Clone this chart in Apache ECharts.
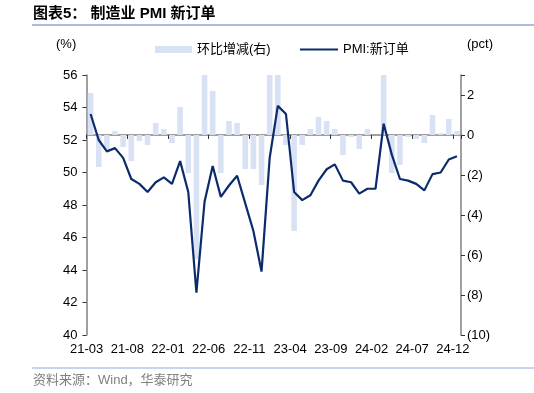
<!DOCTYPE html>
<html>
<head>
<meta charset="utf-8">
<script src="https://cdn.jsdelivr.net/npm/echarts@6/dist/echarts.min.js"></script>
<style>
html,body{margin:0;padding:0;background:#fff;}
#c{width:534px;height:393px;}
</style>
</head>
<body>
<div id="c"></div>
<script>
const categories = ['21-03','21-04','21-05','21-06','21-07','21-08','21-09','21-10','21-11','21-12',
  '22-01','22-02','22-03','22-04','22-05','22-06','22-07','22-08','22-09','22-10','22-11','22-12',
  '23-01','23-02','23-03','23-04','23-05','23-06','23-07','23-08','23-09','23-10','23-11','23-12',
  '24-01','24-02','24-03','24-04','24-05','24-06','24-07','24-08','24-09','24-10','24-11','24-12'];
const pmiNewOrders = [53.6,52.0,51.3,51.5,50.9,49.6,49.3,48.8,49.4,49.7,
  49.3,50.7,48.8,42.6,48.2,50.4,48.5,49.2,49.8,48.1,46.4,43.9,
  50.9,54.1,53.6,48.8,48.3,48.6,49.5,50.2,50.5,49.5,49.4,48.7,
  49.0,49.0,53.0,51.1,49.6,49.5,49.3,48.9,49.9,50.0,50.8,51.0];
const momChange = [2.1,-1.6,-0.7,0.2,-0.6,-1.3,-0.3,-0.5,0.6,0.3,
  -0.4,1.4,-1.9,-6.2,5.6,2.2,-1.9,0.7,0.6,-1.7,-1.7,-2.5,
  7.0,3.2,-0.5,-4.8,-0.5,0.3,0.9,0.7,0.3,-1.0,-0.1,-0.7,
  0.3,0.0,4.0,-1.9,-1.5,-0.1,-0.2,-0.4,1.0,0.1,0.8,0.2];
const leftTicks = {min:40, max:56, interval:2};
const rightTicks = {min:-10, max:3, interval:2};

const FONT = '"Liberation Sans", Arial, "Noto Sans CJK SC", sans-serif';
const chart = echarts.init(document.getElementById('c'), null, {renderer:'canvas'});
const axisGrey = '#808080';
const lineColor = '#0B2B6B';
chart.setOption({
  animation:false,
  backgroundColor:'#fff',
  textStyle:{fontFamily:FONT},
  grid:{left:86.5, right:73, top:75, bottom:58, containLabel:false},
  legend:[
    {data:['环比增减(右)'], left:150, top:38, itemWidth:37, itemHeight:7, icon:'rect',
     textStyle:{fontSize:13, color:'#000', fontFamily:FONT}},
    {data:['PMI:新订单'], left:295, top:38, itemWidth:38, itemHeight:2, icon:'rect',
     itemStyle:{color:lineColor},
     textStyle:{fontSize:13, color:'#000', fontFamily:FONT}}
  ],
  xAxis:{
    type:'category', data:categories, boundaryGap:true,
    axisLine:{show:true, lineStyle:{color:axisGrey, width:1.5}},
    axisTick:{show:true, interval:4, length:4, inside:false, alignWithLabel:false, lineStyle:{color:'#333'}},
    axisLabel:{interval:4, fontSize:13, color:'#000', margin:8, padding:[0,8,0,0], fontFamily:FONT},
    splitLine:{show:false}
  },
  yAxis:[
    {type:'value', position:'left', min:leftTicks.min, max:leftTicks.max, interval:leftTicks.interval,
     axisLine:{show:true, lineStyle:{color:axisGrey, width:1.5}},
     axisTick:{show:true, length:4, lineStyle:{color:'#333'}},
     axisLabel:{fontSize:13, color:'#000', margin:9, fontFamily:FONT},
     splitLine:{show:false}},
    {type:'value', position:'right', min:rightTicks.min, max:rightTicks.max, interval:rightTicks.interval,
     axisLine:{show:true, lineStyle:{color:axisGrey, width:1.5}},
     axisTick:{show:true, length:4, lineStyle:{color:'#333'}},
     axisLabel:{fontSize:13, color:'#000', margin:6, fontFamily:FONT,
       formatter:function(v){ if(v===3) return ''; return v<0 ? '('+(-v)+')' : String(v); }},
     splitLine:{show:false}}
  ],
  series:[
    {name:'环比增减(右)', type:'bar', yAxisIndex:1, data:momChange, barWidth:5.6,
     itemStyle:{color:'#D9E2F4'}, clip:true, z:1},
    {name:'PMI:新订单', type:'line', yAxisIndex:0, data:pmiNewOrders, symbol:'none',
     lineStyle:{color:lineColor, width:2.2}, itemStyle:{color:lineColor}, z:3}
  ],
  graphic:[
    {type:'text', left:33, top:6, style:{text:'图表5： 制造业 PMI 新订单', font:'bold 15px "Liberation Sans", Arial, "Noto Sans CJK SC"', fill:'#000'}},
    {type:'line', shape:{x1:32, y1:25, x2:534, y2:25}, style:{stroke:'#5B7DB8', lineWidth:1.2}},
    {type:'text', left:56, top:38, style:{text:'(%)', font:'13px "Liberation Sans", Arial', fill:'#000'}},
    {type:'text', left:467, top:38, style:{text:'(pct)', font:'13px "Liberation Sans", Arial', fill:'#000'}},
    {type:'line', shape:{x1:32, y1:368, x2:534, y2:368}, style:{stroke:'#8FAADC', lineWidth:1}},
    {type:'text', left:33, top:374, style:{text:'资料来源：Wind，华泰研究', font:'13px "Liberation Sans", Arial, "Noto Sans CJK SC"', fill:'#808080'}}
  ]
});
</script>
</body>
</html>
